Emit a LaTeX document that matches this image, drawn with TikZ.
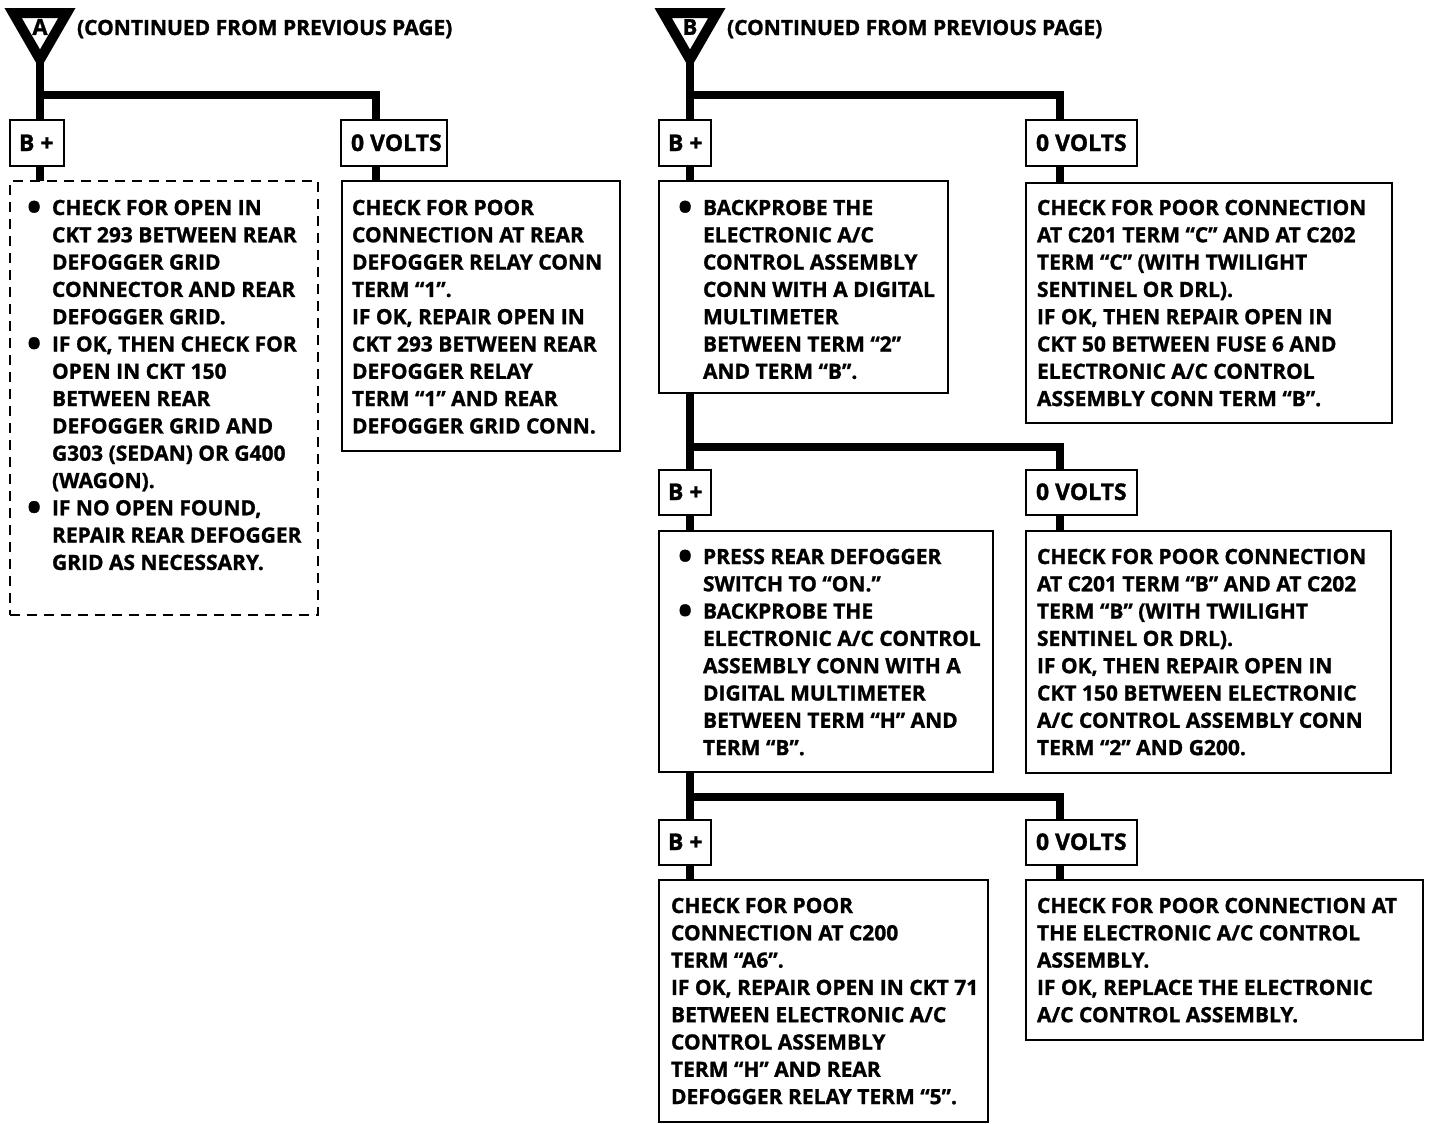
\documentclass[tikz,border=0pt]{standalone}
\usepackage{fontspec}
\setmainfont{Open Sans}[BoldFeatures={FakeBold=1.2}]
\usetikzlibrary{fit,shapes.geometric}
\tikzset{
  frame/.style={draw=black, line width=1.3pt, inner sep=0pt, outer sep=0pt, fill=white},
  dframe/.style={frame, dash pattern=on 5pt off 3.5pt},
  conn/.style={line width=3.6pt, line cap=butt},
  txt/.style={anchor=base west, inner sep=0pt, outer sep=0pt, font=\bfseries\fontsize{10.5}{13.65}\selectfont},
  lbl/.style={anchor=base west, inner sep=0pt, outer sep=0pt, font=\bfseries\fontsize{11.5}{14}\selectfont},
  hdr/.style={anchor=base west, inner sep=0pt, outer sep=0pt, font=\bfseries\fontsize{10.5}{13}\selectfont},
  tri/.style={regular polygon, regular polygon sides=3, shape border rotate=180, draw=black, line width=5pt, fill=white, minimum size=31pt, inner sep=0pt, outer sep=0pt},
  trilbl/.style={inner sep=0pt, font=\bfseries\fontsize{11}{12}\selectfont}
}
\newcommand{\bul}{\leavevmode\llap{\makebox[12.5pt][l]{\raisebox{-2.8pt}{\fontsize{19}{0}\selectfont •}}}}
\newcommand{\tb}[2]{\parbox[t]{#1}{\raggedright #2}}
\begin{document}
\begin{tikzpicture}[x=0.5pt, y=-0.5pt]
\useasboundingbox (0,0) rectangle (1440,1124);
% ---------- column A ----------
\node[tri] (tA) at (40,28.5) {};
\node[trilbl] (tAl) at (40,27) {A};
\node[hdr] (hA) at (77,35) {(CONTINUED FROM PREVIOUS PAGE)};
\coordinate (jA) at (40,95);
\coordinate (kA) at (376,95);
\node[frame, fit={(10,120) (64,166)}] (bpA) {};
\node[lbl] (bpAt) at (19,151) {B +};
\node[frame, fit={(341,120) (447,166)}] (zvA) {};
\node[lbl] (zvAt) at (351,151) {0 VOLTS};
\node[dframe, fit={(10,181) (318,615)}] (a1) {};
\node[frame, fit={(342,181) (620,451)}] (a2) {};
\draw[conn] (tA.corner 1) -- (jA) -- (jA |- bpA.north);
\draw[conn] (jA) -- (kA) -- (kA |- zvA.north);
\draw[conn] (jA |- bpA.south) -- (jA |- a1.north);
\draw[conn] (kA |- zvA.south) -- (kA |- a2.north);
\node[txt] (a1t) at (52,215) {\tb{200pt}{\bul CHECK FOR OPEN IN\\
CKT 293 BETWEEN REAR\\
DEFOGGER GRID\\
CONNECTOR AND REAR\\
DEFOGGER GRID.\\
\bul IF OK, THEN CHECK FOR\\
OPEN IN CKT 150\\
BETWEEN REAR\\
DEFOGGER GRID AND\\
G303 (SEDAN) OR G400\\
(WAGON).\\
\bul IF NO OPEN FOUND,\\
REPAIR REAR DEFOGGER\\
GRID AS NECESSARY.}};
\node[txt] (a2t) at (352,215) {\tb{200pt}{CHECK FOR POOR\\
CONNECTION AT REAR\\
DEFOGGER RELAY CONN\\
TERM “1”.\\
IF OK, REPAIR OPEN IN\\
CKT 293 BETWEEN REAR\\
DEFOGGER RELAY\\
TERM “1” AND REAR\\
DEFOGGER GRID CONN.}};
% ---------- column B ----------
\node[tri] (tB) at (690,28.5) {};
\node[trilbl] (tBl) at (690,27) {B};
\node[hdr] (hB) at (727,35) {(CONTINUED FROM PREVIOUS PAGE)};
\coordinate (jB1) at (690,95);
\coordinate (kB1) at (1060,95);
\coordinate (jB2) at (690,447);
\coordinate (kB2) at (1060,447);
\coordinate (jB3) at (690,797);
\coordinate (kB3) at (1060,797);
% level 1
\node[frame, fit={(659,120) (711,166)}] (bpB1) {};
\node[lbl] (bpB1t) at (668,151) {B +};
\node[frame, fit={(1026,120) (1137,166)}] (zvB1) {};
\node[lbl] (zvB1t) at (1036,151) {0 VOLTS};
\node[frame, fit={(659,181) (948,393)}] (b1) {};
\node[frame, fit={(1026,183) (1392,423)}] (b2) {};
% level 2
\node[frame, fit={(659,470) (711,515)}] (bpB2) {};
\node[lbl] (bpB2t) at (668,500) {B +};
\node[frame, fit={(1026,470) (1137,515)}] (zvB2) {};
\node[lbl] (zvB2t) at (1036,500) {0 VOLTS};
\node[frame, fit={(659,531) (993,772)}] (b3) {};
\node[frame, fit={(1026,531) (1391,773)}] (b4) {};
% level 3
\node[frame, fit={(659,820) (711,865)}] (bpB3) {};
\node[lbl] (bpB3t) at (668,850) {B +};
\node[frame, fit={(1026,820) (1137,865)}] (zvB3) {};
\node[lbl] (zvB3t) at (1036,850) {0 VOLTS};
\node[frame, fit={(659,880) (988,1122)}] (b5) {};
\node[frame, fit={(1026,880) (1423,1040)}] (b6) {};
% connectors B
\draw[conn] (tB.corner 1) -- (jB1) -- (jB1 |- bpB1.north);
\draw[conn] (jB1) -- (kB1) -- (kB1 |- zvB1.north);
\draw[conn] (jB1 |- bpB1.south) -- (jB1 |- b1.north);
\draw[conn] (kB1 |- zvB1.south) -- (kB1 |- b2.north);
\draw[conn] (jB1 |- b1.south) -- (jB2) -- (jB2 |- bpB2.north);
\draw[conn] (jB2) -- (kB2) -- (kB2 |- zvB2.north);
\draw[conn] (jB2 |- bpB2.south) -- (jB2 |- b3.north);
\draw[conn] (kB2 |- zvB2.south) -- (kB2 |- b4.north);
\draw[conn] (jB2 |- b3.south) -- (jB3) -- (jB3 |- bpB3.north);
\draw[conn] (jB3) -- (kB3) -- (kB3 |- zvB3.north);
\draw[conn] (jB3 |- bpB3.south) -- (jB3 |- b5.north);
\draw[conn] (kB3 |- zvB3.south) -- (kB3 |- b6.north);
% texts B
\node[txt] (b1t) at (703,215) {\tb{200pt}{\bul BACKPROBE THE\\
ELECTRONIC A/C\\
CONTROL ASSEMBLY\\
CONN WITH A DIGITAL\\
MULTIMETER\\
BETWEEN TERM “2”\\
AND TERM “B”.}};
\node[txt] (b2t) at (1037,215) {\tb{220pt}{CHECK FOR POOR CONNECTION\\
AT C201 TERM “C” AND AT C202\\
TERM “C” (WITH TWILIGHT\\
SENTINEL OR DRL).\\
IF OK, THEN REPAIR OPEN IN\\
CKT 50 BETWEEN FUSE 6 AND\\
ELECTRONIC A/C CONTROL\\
ASSEMBLY CONN TERM “B”.}};
\node[txt] (b3t) at (703,564) {\tb{200pt}{\bul PRESS REAR DEFOGGER\\
SWITCH TO “ON.”\\
\bul BACKPROBE THE\\
ELECTRONIC A/C CONTROL\\
ASSEMBLY CONN WITH A\\
DIGITAL MULTIMETER\\
BETWEEN TERM “H” AND\\
TERM “B”.}};
\node[txt] (b4t) at (1037,564) {\tb{220pt}{CHECK FOR POOR CONNECTION\\
AT C201 TERM “B” AND AT C202\\
TERM “B” (WITH TWILIGHT\\
SENTINEL OR DRL).\\
IF OK, THEN REPAIR OPEN IN\\
CKT 150 BETWEEN ELECTRONIC\\
A/C CONTROL ASSEMBLY CONN\\
TERM “2” AND G200.}};
\node[txt] (b5t) at (671,913) {\tb{200pt}{CHECK FOR POOR\\
CONNECTION AT C200\\
TERM “A6”.\\
IF OK, REPAIR OPEN IN CKT 71\\
BETWEEN ELECTRONIC A/C\\
CONTROL ASSEMBLY\\
TERM “H” AND REAR\\
DEFOGGER RELAY TERM “5”.}};
\node[txt] (b6t) at (1037,913) {\tb{220pt}{CHECK FOR POOR CONNECTION AT\\
THE ELECTRONIC A/C CONTROL\\
ASSEMBLY.\\
IF OK, REPLACE THE ELECTRONIC\\
A/C CONTROL ASSEMBLY.}};
\end{tikzpicture}
\end{document}
